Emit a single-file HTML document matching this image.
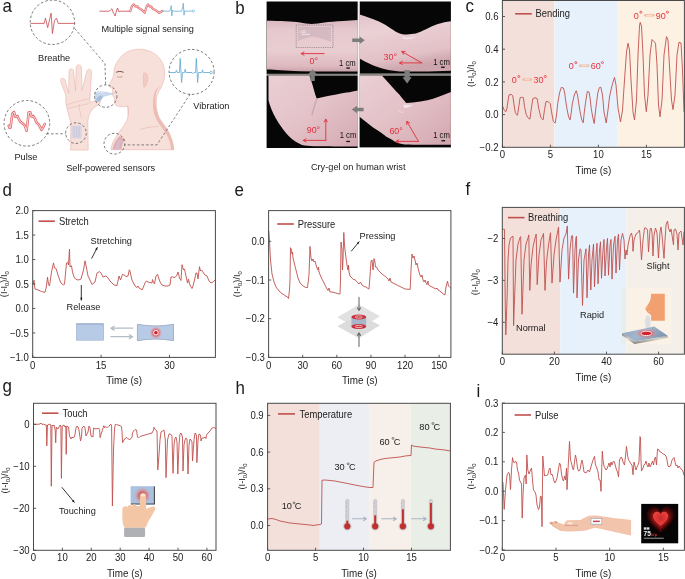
<!DOCTYPE html>
<html><head><meta charset="utf-8"><style>
html,body{margin:0;padding:0;background:#fff;width:685px;height:579px;overflow:hidden}
svg{display:block;font-family:"Liberation Sans",sans-serif;will-change:transform}
</style></head><body>
<svg width="685" height="579" viewBox="0 0 685 579">
<path d="M110.9,149.7 C112,143 114,139 119.8,131.3 C123,127 125.8,123.3 127.5,119 C128.5,115 128.3,110 128,105.8 C126,106.5 125,106.8 123.8,106.8 C121,106.8 119.5,106.7 118.1,106.3 C116.5,105.8 115.8,105.2 115.5,104.7 C114.8,103.5 114.5,102.8 114.5,102.2 C114.5,100.5 114.8,99.5 114.5,98.5 C113.8,97.5 113.2,96.8 113,95.9 C112.6,95 112.2,94.2 112.2,93.3 C112.2,92.3 112.4,91.5 112.4,90.8 C112.4,89.8 112.5,88.8 112.4,88.2 C111.5,87.7 110.5,87.5 109.8,87.1 C109.2,86.7 108.9,86.2 109.1,85.6 C109.3,84.8 109.5,84.2 109.8,83.5 C110.6,82.2 111.3,81 111.9,79.9 C112.6,78.5 113.2,77 113.5,75.7 C113.7,74.3 113.8,73 114,71.6 C114.1,70.2 114.2,68.8 114.5,67.4 C115.3,65.3 116.4,63.2 117.6,61.2 C119.2,58.8 121,56.8 122.8,55 C127,51 133,49.2 139.7,49.2 C149,49.6 158,53.5 162.5,63 C165.5,70 164.8,78 163.3,82 C161.8,87 159.8,89.5 158.5,92 C156.3,96 156,101 156.3,106 C156.7,112 158.5,117 160.6,120.1 C162.5,123 164.5,125.5 166.6,128.5 C168.5,131.5 170.2,134.5 171.4,138.2 C172.8,142 173.6,146 173.9,149.7 Z" fill="#f8e0da" stroke="#e8b4ac" stroke-width="0.6"/>
<path d="M160.6,85 C158,88 156,91.5 155.7,94.7 C155.3,99 155.6,104 156.3,109.2 C157.2,114 158.6,117.5 160.6,120.1 C162.6,123 164.6,125.6 166.6,128.5 C168.6,131.6 170.2,134.8 171.4,138.2 C172.7,142 173.5,146 173.9,149.7 L171.2,149.7 C170.8,145.5 169.8,141.5 168.3,138 C166.8,134.5 164.8,131.5 162.8,129 C160.5,126 158.3,123 156.8,120 C155,116.5 153.8,113 153.3,109 C152.8,104 153,99 153.8,95 C154.6,91 156.8,88 160.6,85 Z" fill="#ecbcb4"/>
<path d="M143.5,73 C146.5,72 148.3,75 147.8,79 C147.4,83 146,86.5 144,87.5 C143.2,84 143.1,78 143.5,73 Z" fill="#f1cbc4" stroke="#e8b4ac" stroke-width="0.5"/>
<path d="M116.2,72.3 C118.5,71.2 121,71.2 123.5,72.3" stroke="#6e4d47" stroke-width="1" fill="none"/>
<path d="M117.1,76.6 C119,77.3 120.8,77.3 122.4,76.6" stroke="#9a7872" stroke-width="0.6" fill="none"/>
<path d="M112.3,93.4 L114.6,93.6" stroke="#c89a92" stroke-width="0.5" fill="none"/>
<path d="M127.5,106 C128.2,110 128.4,113 128,115.5" stroke="#e0aaa2" stroke-width="0.5" fill="none"/>
<path d="M140,129.7 C146,127.5 152,126.5 158.1,126.7" stroke="#e0aaa2" stroke-width="0.5" fill="none"/>
<path d="M112.5,149.6 C113.5,144 116,139.5 119.5,136 L124.8,139 C123,142 121.8,146 121.5,149.6 Z" fill="#e2aeb3"/>
<path d="M114.5,149.4 C115.5,145 117.2,141.5 119.8,139 L122,140.5 C120.5,143 119.5,146 119.2,149.4 Z" fill="#d7bccb"/>
<path d="M70.7,150 L70.7,121 C69.5,118.5 68.8,116.5 68.5,114 C67.5,111 66.6,108 66.2,105 C65.8,101.5 65.7,98 65.7,94.8 L60.6,81.5 C60.2,79.5 61,78.3 62.3,78.3 C63.8,78.3 64.8,79.2 65.2,80.2 L68.7,93.5 L69,71.5 C69.2,69.5 70.2,68.8 71.3,68.8 C72.6,68.8 73.4,69.6 73.5,70.9 L75.5,91 L76.2,67.5 C76.4,65.6 77.4,64.9 78.6,64.9 C79.8,64.9 81.2,65.6 81.3,67 L82,90.3 L86.8,71 C87.2,69.8 88.3,69.3 89.3,69.4 C90.6,69.6 91.6,70.4 91.5,71.6 L89.8,102.2 C91.5,102 93,101.6 94.3,101.2 C95.5,99.5 96.5,98 97.7,96.8 C99.2,96 100.6,97 100.8,98.5 C100.8,100.5 100.2,102.5 99.6,103.8 C97.5,105.5 95,107 93.2,108.3 C91.3,110.5 89.8,113.3 88.7,116.2 L87.8,121 L88.2,150 Z" fill="#f8e0da" stroke="#e8b4ac" stroke-width="0.6"/>
<path d="M66.3,105 C72,103 80,100.5 89.8,98.8 M67.4,108.6 C74,107 82,104.8 89.3,103.5 M79,104 C79.5,109 80.3,114 81.5,118.2" stroke="#e3aca3" stroke-width="0.45" fill="none"/>
<rect x="71.6" y="125.6" width="10" height="12.8" fill="#d6d3e2" opacity="0.95"/>
<path d="M74,126.5 L74,137.5 M76.6,126.5 L76.6,137.5 M79.2,126.5 L79.2,137.5" stroke="#c3c5da" stroke-width="0.7"/>
<path d="M113.2,93.4 C109,92.6 105,91.6 100.9,91.3 C98,91.2 96,91.9 94.8,93.1 C94.4,95.5 95,98.5 96,100.4 C98.5,99.2 101,97.8 103.9,96.8 C107,95.7 110,94.9 113.2,94.4 Z" fill="#c3d4ea" opacity="0.9"/>
<path d="M96,100.8 C96.4,98.2 98,96.3 100.6,95.4 L103.4,96.9 C102,98.6 100.6,100.4 99.3,101.8 C98.2,102.2 96.8,101.8 96,100.8 Z" fill="#a9bedc"/>
<path d="M97,92.6 C99.5,92 102,92.2 104,92.7" stroke="#eef3fa" stroke-width="0.6" fill="none"/>
<circle cx="52.4" cy="22.3" r="22.2" fill="none" stroke="#4d4d4d" stroke-width="0.75" stroke-dasharray="2.6,2"/>
<circle cx="191.6" cy="71.9" r="22.5" fill="none" stroke="#4d4d4d" stroke-width="0.75" stroke-dasharray="2.6,2"/>
<circle cx="26.9" cy="123.3" r="22.8" fill="none" stroke="#4d4d4d" stroke-width="0.75" stroke-dasharray="2.6,2"/>
<circle cx="105.7" cy="96.1" r="11.2" fill="none" stroke="#4d4d4d" stroke-width="0.75" stroke-dasharray="2.6,2"/>
<circle cx="76" cy="133.1" r="10.3" fill="none" stroke="#4d4d4d" stroke-width="0.75" stroke-dasharray="2.6,2"/>
<circle cx="114.4" cy="143.7" r="10.4" fill="none" stroke="#4d4d4d" stroke-width="0.75" stroke-dasharray="2.6,2"/>
<path d="M74.7,28.5 L104.9,63.5 L105.7,84.9" fill="none" stroke="#4d4d4d" stroke-width="0.7" stroke-dasharray="2.6,2"/>
<path d="M46.4,133.8 L65.7,133.8" fill="none" stroke="#4d4d4d" stroke-width="0.7" stroke-dasharray="2.6,2"/>
<path d="M190.2,94.1 L156.9,144.9 L124.6,144.9" fill="none" stroke="#4d4d4d" stroke-width="0.7" stroke-dasharray="2.6,2"/>
<polyline points="30.9,23.4 44.1,23.4 45.5,18.2 47.7,27.7 51.1,13.1 52.4,33.6 54.5,20.5 56.5,18.2 58.2,23.4 74.7,23.4" fill="none" stroke="#c8474c" stroke-width="0.8" stroke-linejoin="round" stroke-linecap="round" />
<polyline points="169.4,72.5 175.6,72.5 176.4,70.2 177.3,72.5 179.4,72.5 180.2,58.3 181.6,82.5 182.6,72.5 184.5,72.5 185.2,69.2 186,72.5 192,72.5 193,73.6 194,72.5 195.6,72.5 196.3,58.3 197.6,82.5 198.5,72.5 201.8,72.5 202.5,69.9 203.2,72.5 209.9,72.5" fill="none" stroke="#5ca6cf" stroke-width="0.8" stroke-linejoin="round" stroke-linecap="round" />
<circle cx="211.1" cy="72.5" r="1.2" fill="#fff" stroke="#5ca6cf" stroke-width="0.7"/>
<polyline points="8.7,125.7 9.5,127.8 10.5,127.5 11.5,120 12.4,113.5 14.1,112 15.3,116.6 16.4,116.8 17.4,115.9 18.2,117.8 20.3,121.6 23.2,124 24.9,125.7 26.5,130.7 27.3,125 27.8,120.7 28.6,112.6 30.3,112.4 31.5,116.6 32.4,116.8 33.2,116 34.8,118.2 36.5,122.4 39,124.9 41.5,129.9 43.1,127.4 44.8,124" fill="none" stroke="#e26f74" stroke-width="2.6" stroke-linejoin="round" stroke-linecap="round" />
<polyline points="8.7,125.7 9.5,127.8 10.5,127.5 11.5,120 12.4,113.5 14.1,112 15.3,116.6 16.4,116.8 17.4,115.9 18.2,117.8 20.3,121.6 23.2,124 24.9,125.7 26.5,130.7 27.3,125 27.8,120.7 28.6,112.6 30.3,112.4 31.5,116.6 32.4,116.8 33.2,116 34.8,118.2 36.5,122.4 39,124.9 41.5,129.9 43.1,127.4 44.8,124" fill="none" stroke="#fde6e6" stroke-width="0.9" stroke-linejoin="round" stroke-linecap="round" />
<polyline points="99.8,11.2 109.4,11.2 110.5,10 111.9,8.8 113,12 115.1,16 116.5,11 117.5,8 118.3,10 119.1,12 120,11.2 130.3,11.2" fill="none" stroke="#c8474c" stroke-width="0.8" stroke-linejoin="round" stroke-linecap="round" />
<polyline points="130.3,11.2 131.3,8 132.2,5.6 133.8,4.5 135.4,6.4 136.3,6.6 137.1,6.1 138.3,7.7 141.5,9.6 144.8,12.8 145.8,9 146.7,6.4 148,4.5 149.6,6.4 150.4,6.6 151.2,6.4 152.8,8.8 156,10.4 159.2,12.8 160.8,12 162.4,10.9" fill="none" stroke="#e26f74" stroke-width="2.2" stroke-linejoin="round" stroke-linecap="round" />
<polyline points="130.3,11.2 131.3,8 132.2,5.6 133.8,4.5 135.4,6.4 136.3,6.6 137.1,6.1 138.3,7.7 141.5,9.6 144.8,12.8 145.8,9 146.7,6.4 148,4.5 149.6,6.4 150.4,6.6 151.2,6.4 152.8,8.8 156,10.4 159.2,12.8 160.8,12 162.4,10.9" fill="none" stroke="#fde6e6" stroke-width="0.7" stroke-linejoin="round" stroke-linecap="round" />
<polyline points="162.4,11.2 169.5,11.2 170.5,9 171.2,5.6 171.8,16 172.5,10 173.3,11.2 181.5,11.2 182.5,8 183.3,3.2 184,15.2 184.8,10.5 185.5,11.2 192.5,11" fill="none" stroke="#6aaed3" stroke-width="0.8" stroke-linejoin="round" stroke-linecap="round" />
<circle cx="193.5" cy="11" r="1.1" fill="#fff" stroke="#6aaed3" stroke-width="0.6"/>
<text transform="translate(38,60.6) scale(0.94,1)" font-size="9.8" text-anchor="start" fill="#222" >Breathe</text>
<text transform="translate(101.4,32.2) scale(0.94,1)" font-size="9.8" text-anchor="start" fill="#222" >Multiple signal sensing</text>
<text transform="translate(193.3,108.6) scale(0.94,1)" font-size="9.8" text-anchor="start" fill="#222" >Vibration</text>
<text transform="translate(14.4,160) scale(0.94,1)" font-size="9.8" text-anchor="start" fill="#222" >Pulse</text>
<text transform="translate(66.2,170.5) scale(0.94,1)" font-size="9.8" text-anchor="start" fill="#222" >Self-powered sensors</text>
<rect x="266.6" y="1.5" width="91.2" height="72.4" fill="#060606"/>
<path d="M266.9,20.7 C280,21 292,21 300,22.5 C306,23.8 311,24.5 318,23.5 C326,22 336,21.3 357.8,20 L357.8,71.4 C340,71.4 320,71.6 300,71.2 C285,70.8 275,70 266.9,69.6 Z" fill="url(#gskin1)"/>
<rect x="296.2" y="25" width="36.8" height="22.5" fill="none" stroke="#6a6a6a" stroke-width="0.7" stroke-dasharray="0.8,1"/>
<path d="M298,27 L331,27 L331,42 C325,40 318,36 310,37 C305,38 300,40 298,41 Z" fill="#c9adb6" opacity="0.55"/>
<path d="M300,32 C302,31.5 304,33 306,32 M301.5,34.5 C304,34 307,35 310,34 M303,30.5 L305,30.8" stroke="#f6f0f6" stroke-width="0.9" fill="none" opacity="0.85"/>
<rect x="359.6" y="1.5" width="91.3" height="72.2" fill="#060606"/>
<path d="M359.6,14.6 C363,15.8 367,17 370.6,18.2 C376,20 381,22.5 385.2,24.8 C389,27 392,29.5 395.4,31.4 C397.5,32.5 399.5,33.4 401.3,33.9 C403.5,34.5 405.5,34.7 407.1,34.6 C410,34.4 413,34.1 415.9,33.6 C419.5,32.3 423,30.6 426,29.2 C430,27.3 434,25.5 437.8,24.1 C442,22.6 446.5,21.7 450.9,21.2 L450.9,70.8 C440,71.3 430,71.5 421.7,71.5 C413,71.5 405,71.5 399.8,71.5 C394,71 389,70.2 385.2,69.3 C380,68 375,66.3 370.6,64.2 C366.5,62.3 363,60.4 359.6,58.4 Z" fill="url(#gskin2)"/>
<path d="M401,36 C404,38 410,38.5 416,36 C414,38.5 409,40 404,39 Z" fill="#f3eaf0" opacity="0.8"/>
<rect x="266.6" y="75.4" width="91.2" height="72.6" fill="#060606"/>
<path d="M268.5,75.4 L309.4,75.4 C310.5,78.5 311.5,81.5 312.4,84.6 C313.4,88 314.4,91.5 315.3,94.8 C315.8,96 316.2,97.3 316.7,98.5 C318.9,98 321.1,97.5 323.3,97 C327.2,96.2 331.1,95.5 335,94.8 C339,94 342.8,93.3 346.7,92.6 C350.6,91.9 354.5,91.1 357.8,90.4 L357.8,146.6 C343,146.5 325,146.4 314,146.3 C309,145.9 305.5,145.5 302,144.9 C299.5,143.8 297.5,142.8 295.4,141.6 C293,139.8 290.8,138 288.7,135.9 C286.7,133.8 284.8,131.5 283,129.2 C281.3,127 279.7,124.8 278.3,122.6 C276.6,119.8 275,117 273.5,114 C272,110.9 270.8,107.6 269.7,104.5 C269.2,103 268.8,101.5 268.5,100 Z" fill="url(#gskin3)"/>
<path d="M316.7,99 C315,104 313.2,110 311.8,115.5" stroke="#c8a0a8" stroke-width="1.4" fill="none" opacity="0.8"/>
<rect x="359.3" y="75.4" width="91.6" height="72" fill="#060606"/>
<path d="M359.3,75.4 L381.8,75.4 C388,82 394,89 399.7,95 C401.2,97 402.8,99 404.4,100.7 C405,101.5 405.6,102.3 406.3,103.1 C408.5,102.9 410.8,102.8 413,102.6 C418,102 423,101.2 427.5,100.2 C435,98.5 442,95.5 450.9,92 L450.9,144.8 C430,144.8 415,144.7 405,144.5 C400,143.8 397.5,143 395.5,142 C394.3,141.3 393.2,140.6 392.1,139.8 C390.2,138.8 388.3,137.8 386.3,136.7 C383.5,134.5 381,132.5 379.7,131.8 C377.2,130.2 375.2,128.8 373.1,127.5 C370.5,125.5 368,123.5 365.5,121.5 C363.6,120 361.7,118.5 359.8,117 L359.3,116.6 Z" fill="url(#gskin4)"/>
<path d="M403,105 C406,104.5 410,105.5 413,104.5 C411,107 407,108.5 404,108 Z" fill="#f3eaf0" opacity="0.8"/>
<path d="M398,110 C400,112 402,113 404,112" stroke="#f3eaf0" stroke-width="0.8" fill="none" opacity="0.7"/>
<defs>
<linearGradient id="gskin1" x1="0" y1="0" x2="0" y2="1"><stop offset="0" stop-color="#d9b7bf"/><stop offset="0.2" stop-color="#e6c9ce"/><stop offset="0.6" stop-color="#e8cdd1"/><stop offset="0.9" stop-color="#ddb9bf"/><stop offset="1" stop-color="#c9a2aa"/></linearGradient>
<linearGradient id="gskin2" x1="0" y1="0" x2="0.3" y2="1"><stop offset="0" stop-color="#e2c4ca"/><stop offset="0.3" stop-color="#ebd1d5"/><stop offset="0.8" stop-color="#e2c1c7"/><stop offset="1" stop-color="#cda6ad"/></linearGradient>
<linearGradient id="gskin3" x1="0" y1="0" x2="1" y2="1"><stop offset="0" stop-color="#eacfd4"/><stop offset="0.45" stop-color="#e4c4ca"/><stop offset="0.8" stop-color="#dbb4bb"/><stop offset="1" stop-color="#d0a6ae"/></linearGradient>
<linearGradient id="gskin4" x1="0" y1="0" x2="1" y2="1"><stop offset="0" stop-color="#eacfd4"/><stop offset="0.45" stop-color="#e3c2c8"/><stop offset="0.8" stop-color="#dab2b9"/><stop offset="1" stop-color="#cfa4ac"/></linearGradient>
<radialGradient id="rglow"><stop offset="0" stop-color="#d21f2a"/><stop offset="0.5" stop-color="#dd5a60" stop-opacity="0.8"/><stop offset="1" stop-color="#f0a0a0" stop-opacity="0"/></radialGradient>
<radialGradient id="rglow2"><stop offset="0" stop-color="#c62828"/><stop offset="0.55" stop-color="#d9706e" stop-opacity="0.75"/><stop offset="1" stop-color="#e8a4a8" stop-opacity="0"/></radialGradient>
<radialGradient id="heartglow"><stop offset="0" stop-color="#8a0f12"/><stop offset="0.4" stop-color="#6a0a0c"/><stop offset="0.7" stop-color="#3a0405"/><stop offset="1" stop-color="#000" stop-opacity="0"/></radialGradient>
</defs>
<rect x="266.6" y="73.9" width="184.3" height="1.4" fill="#8a8682"/>
<rect x="357.8" y="1.5" width="1.6" height="146.5" fill="#f4f0f0"/>
<path d="M352.2,38.5 L359.6,38.5 L359.6,36.5 L364.8,40.2 L359.6,43.9 L359.6,41.9 L352.2,41.9 Z" fill="#7d7d7d"/>
<path d="M404.5,70 L404.5,77.2 L402.5,77.2 L407.1,83.4 L411.7,77.2 L409.7,77.2 L409.7,70 Z" fill="#7d7d7d"/>
<path d="M363.6,107.8 L357,107.8 L357,105.8 L351.8,109.5 L357,113.2 L357,111.2 L363.6,111.2 Z" fill="#7d7d7d"/>
<path d="M310.3,81 L310.3,74.2 L308.1,74.2 L312.5,69.3 L316.9,74.2 L314.8,74.2 L314.8,81 Z" fill="#7d7d7d"/>
<path d="M324.1,53.6 L301.2,53.6 M303.95,51.97 L301.2,53.6 L303.95,55.23" stroke="#e0303a" stroke-width="0.9" fill="none" stroke-linecap="round" stroke-linejoin="round"/>
<text transform="translate(309.6,63.7) scale(0.94,1)" font-size="9.5" text-anchor="start" fill="#e0303a" >0°</text>
<path d="M421.8,62.9 L399.6,62.9 M402.35,61.27 L399.6,62.9 L402.35,64.53" stroke="#e0303a" stroke-width="0.9" fill="none" stroke-linecap="round" stroke-linejoin="round"/>
<path d="M421.8,62.9 L401.8,51.5 M405,51.45 L401.8,51.5 L403.39,54.28" stroke="#e0303a" stroke-width="0.9" fill="none" stroke-linecap="round" stroke-linejoin="round"/>
<text transform="translate(383.6,60.2) scale(0.94,1)" font-size="9.5" text-anchor="start" fill="#e0303a" >30°</text>
<path d="M325.8,140.4 L303.3,140.4 M306.05,138.77 L303.3,140.4 L306.05,142.03" stroke="#e0303a" stroke-width="0.9" fill="none" stroke-linecap="round" stroke-linejoin="round"/>
<path d="M325.8,140.4 L325.8,119.2 M327.43,121.95 L325.8,119.2 L324.17,121.95" stroke="#e0303a" stroke-width="0.9" fill="none" stroke-linecap="round" stroke-linejoin="round"/>
<text transform="translate(306.7,132.8) scale(0.94,1)" font-size="9.5" text-anchor="start" fill="#e0303a" >90°</text>
<path d="M418.5,141.4 L396,141.4 M398.75,139.77 L396,141.4 L398.75,143.03" stroke="#e0303a" stroke-width="0.9" fill="none" stroke-linecap="round" stroke-linejoin="round"/>
<path d="M418.5,141.4 L406.8,121.4 M409.6,122.95 L406.8,121.4 L406.78,124.6" stroke="#e0303a" stroke-width="0.9" fill="none" stroke-linecap="round" stroke-linejoin="round"/>
<text transform="translate(389.4,133.6) scale(0.94,1)" font-size="9.5" text-anchor="start" fill="#e0303a" >60°</text>
<text transform="translate(339,65.8) scale(0.94,1)" font-size="8.2" text-anchor="start" fill="#111" >1 cm</text>
<rect x="346.3" y="67.4" width="3.6" height="1.3" fill="#111"/>
<text transform="translate(433.2,65) scale(0.94,1)" font-size="8.2" text-anchor="start" fill="#111" >1 cm</text>
<rect x="441.1" y="66.60000000000001" width="3.6" height="1.3" fill="#111"/>
<text transform="translate(339.7,137.8) scale(0.94,1)" font-size="8.2" text-anchor="start" fill="#111" >1 cm</text>
<rect x="346.3" y="140.8" width="3.6" height="1.3" fill="#111"/>
<text transform="translate(433.2,137.8) scale(0.94,1)" font-size="8.2" text-anchor="start" fill="#111" >1 cm</text>
<rect x="441.5" y="140.1" width="3.6" height="1.3" fill="#111"/>
<text transform="translate(358.2,170.1) scale(0.94,1)" font-size="9.8" text-anchor="middle" fill="#222" >Cry-gel on human wrist</text>
<text transform="translate(2.5,12.2) scale(0.94,1)" font-size="18" text-anchor="start" fill="#1a1a1a" >a</text>
<text transform="translate(235.2,13.9) scale(0.94,1)" font-size="18" text-anchor="start" fill="#1a1a1a" >b</text>
<text transform="translate(465.5,12.2) scale(0.94,1)" font-size="18" text-anchor="start" fill="#1a1a1a" >c</text>
<text transform="translate(2.5,195.8) scale(0.94,1)" font-size="18" text-anchor="start" fill="#1a1a1a" >d</text>
<text transform="translate(234.5,195.8) scale(0.94,1)" font-size="18" text-anchor="start" fill="#1a1a1a" >e</text>
<text transform="translate(465.5,195.2) scale(0.94,1)" font-size="18" text-anchor="start" fill="#1a1a1a" >f</text>
<text transform="translate(2.5,391.5) scale(0.94,1)" font-size="18" text-anchor="start" fill="#1a1a1a" >g</text>
<text transform="translate(235.5,393.7) scale(0.94,1)" font-size="18" text-anchor="start" fill="#1a1a1a" >h</text>
<text transform="translate(476.6,396.6) scale(0.94,1)" font-size="18" text-anchor="start" fill="#1a1a1a" >i</text>
<rect x="502.4" y="0.5" width="51.9" height="146.8" fill="#f3e0da"/>
<rect x="554.3" y="0.5" width="0.5" height="146.8" fill="#f8f0ee"/>
<rect x="554.8" y="0.5" width="62.2" height="146.8" fill="#e7f1fb"/>
<rect x="617" y="0.5" width="67.4" height="146.8" fill="#fdf1e4"/>
<polyline points="502.9,106.7 504.3,110.5 505.8,111.8 507,108 508,100.9 509,95 511,94.3 512.8,95.8 513.9,103.8 515.3,112.6 516.5,114.6 517.5,115.2 519,105.3 520.1,97.7 521.9,97.2 523.4,97.7 524.5,106.7 526.3,114.7 528,117.8 529.9,119.1 531.4,108.2 532.8,98.7 535,97.7 537.2,98.7 538.7,108.2 540.9,117.7 543.1,119.9 544.5,109.6 546,101.6 548.2,101.6 550.4,103.8 551.4,111.1 553.3,121.3 555.2,123.1 556.5,115 557.7,103.8 559.5,93 561.3,87.4 563.5,88 564.7,93 565.7,100.9 567.2,110 568.6,116.9 570.1,119.9 571.3,112 572.3,103.8 574.3,95 576.2,90.7 577.5,95 578.8,103.8 580.3,113 581.8,119.9 583.2,122.8 584.3,112 585.4,103.8 587.3,91.4 589.1,92.1 590.2,99 591.2,108.2 592.7,117 594.2,123.5 595.3,113 596.4,103.8 597.8,93 599.3,87.7 600.8,87.2 602.5,95 604,112 606.2,123 608,110 609.5,97 611,89.9 613,82 614.5,77.4 616,85 618,108 620.5,122 622.5,110 624.5,80 626.5,52 628,43.2 629.5,50 631,80 633,112 634.5,120 636.5,100 638,55 639.5,26 640.2,22.4 641.5,26 643,55 644.5,95 646.3,111.7 648,95 650,55 652,39.5 655.5,43.2 657,65 658.5,105 660,116.8 662,100 664,55 666.5,36.6 668,40 670,75 671.5,100 673,109.6 675,95 677,55 679,42.2 681,43 682.5,70 684,111.7" fill="none" stroke="#c0504d" stroke-width="0.9" stroke-linejoin="round" stroke-linecap="round" />
<rect x="502.4" y="0.5" width="182" height="146.8" fill="none" stroke="#4a4a4a" stroke-width="1"/>
<line x1="502.4" y1="147.3" x2="502.4" y2="144.7" stroke="#4a4a4a" stroke-width="0.9"/>
<text transform="translate(502.4,158.4) scale(0.94,1)" font-size="10.2" text-anchor="middle" fill="#222" >0</text>
<line x1="550.4" y1="147.3" x2="550.4" y2="144.7" stroke="#4a4a4a" stroke-width="0.9"/>
<text transform="translate(550.4,158.4) scale(0.94,1)" font-size="10.2" text-anchor="middle" fill="#222" >5</text>
<line x1="598.4" y1="147.3" x2="598.4" y2="144.7" stroke="#4a4a4a" stroke-width="0.9"/>
<text transform="translate(598.4,158.4) scale(0.94,1)" font-size="10.2" text-anchor="middle" fill="#222" >10</text>
<line x1="646.4" y1="147.3" x2="646.4" y2="144.7" stroke="#4a4a4a" stroke-width="0.9"/>
<text transform="translate(646.4,158.4) scale(0.94,1)" font-size="10.2" text-anchor="middle" fill="#222" >15</text>
<line x1="502.4" y1="147.3" x2="505" y2="147.3" stroke="#4a4a4a" stroke-width="0.9"/>
<text transform="translate(498.5,150.95) scale(0.94,1)" font-size="10.2" text-anchor="end" fill="#222" >−0.2</text>
<line x1="502.4" y1="114.6" x2="505" y2="114.6" stroke="#4a4a4a" stroke-width="0.9"/>
<text transform="translate(498.5,118.25) scale(0.94,1)" font-size="10.2" text-anchor="end" fill="#222" >0.0</text>
<line x1="502.4" y1="81.9" x2="505" y2="81.9" stroke="#4a4a4a" stroke-width="0.9"/>
<text transform="translate(498.5,85.55) scale(0.94,1)" font-size="10.2" text-anchor="end" fill="#222" >0.2</text>
<line x1="502.4" y1="49.2" x2="505" y2="49.2" stroke="#4a4a4a" stroke-width="0.9"/>
<text transform="translate(498.5,52.85) scale(0.94,1)" font-size="10.2" text-anchor="end" fill="#222" >0.4</text>
<line x1="502.4" y1="16.5" x2="505" y2="16.5" stroke="#4a4a4a" stroke-width="0.9"/>
<text transform="translate(498.5,20.15) scale(0.94,1)" font-size="10.2" text-anchor="end" fill="#222" >0.6</text>
<text transform="translate(593.4,173.7) scale(0.94,1)" font-size="10.5" text-anchor="middle" fill="#222" >Time (s)</text>
<text transform="translate(474,74.1) rotate(-90) scale(0.94,1)" font-size="9.8" text-anchor="middle" fill="#222">(I-I<tspan font-size="6.2" dy="2.2">0</tspan><tspan dy="-2.2">)/I</tspan><tspan font-size="6.2" dy="2.2">0</tspan></text>
<line x1="515.1" y1="13.8" x2="531.8" y2="13.8" stroke="#c0504d" stroke-width="1.6"/>
<text transform="translate(535.5,17.4) scale(0.94,1)" font-size="10" text-anchor="start" fill="#222" >Bending</text>
<text transform="translate(511.7,82.8) scale(0.94,1)" font-size="9.6" text-anchor="start" fill="#e6323c" >0</text>
<circle cx="518.8" cy="76.5" r="1.05" fill="none" stroke="#e6323c" stroke-width="0.75"/>
<text transform="translate(533.6,82.8) scale(0.94,1)" font-size="9.6" text-anchor="start" fill="#e6323c" >30</text>
<circle cx="545.3" cy="76.5" r="1.05" fill="none" stroke="#e6323c" stroke-width="0.75"/>
<path d="M523.3,78.8 L531.1,78.8 M523.3,80.4 L531.1,80.4" stroke="#f6b79e" stroke-width="0.75" fill="none"/>
<path d="M521.8,79.6 L524.2,77.8 L524.2,81.4 Z M532.6,79.6 L530.2,77.8 L530.2,81.4 Z" fill="#f6b79e"/>
<text transform="translate(568.7,68.9) scale(0.94,1)" font-size="9.6" text-anchor="start" fill="#e6323c" >0</text>
<circle cx="575.8" cy="62.6" r="1.05" fill="none" stroke="#e6323c" stroke-width="0.75"/>
<text transform="translate(590.7,68.9) scale(0.94,1)" font-size="9.6" text-anchor="start" fill="#e6323c" >60</text>
<circle cx="602.4" cy="62.6" r="1.05" fill="none" stroke="#e6323c" stroke-width="0.75"/>
<path d="M580,64.9 L588.5,64.9 M580,66.5 L588.5,66.5" stroke="#f6b79e" stroke-width="0.75" fill="none"/>
<path d="M578.5,65.7 L580.9,63.9 L580.9,67.5 Z M590,65.7 L587.6,63.9 L587.6,67.5 Z" fill="#f6b79e"/>
<text transform="translate(633.7,18.5) scale(0.94,1)" font-size="9.6" text-anchor="start" fill="#e6323c" >0</text>
<circle cx="640.8" cy="12.2" r="1.05" fill="none" stroke="#e6323c" stroke-width="0.75"/>
<text transform="translate(655.7,18.5) scale(0.94,1)" font-size="9.6" text-anchor="start" fill="#e6323c" >90</text>
<circle cx="667.4" cy="12.2" r="1.05" fill="none" stroke="#e6323c" stroke-width="0.75"/>
<path d="M645,14.5 L653.5,14.5 M645,16.1 L653.5,16.1" stroke="#f6b79e" stroke-width="0.75" fill="none"/>
<path d="M643.5,15.3 L645.9,13.5 L645.9,17.1 Z M655,15.3 L652.6,13.5 L652.6,17.1 Z" fill="#f6b79e"/>
<polyline points="33,284.4 34,280.2 35,289 38,290 41.5,291.5 45,292.4 46.3,287 47.5,277.2 48.5,284.5 49.5,286 51.5,272 53.5,262.9 54.5,268 56,268.4 58,275 60.5,282 62,284 63.5,285 64.5,284 66.5,263 67.5,262.2 68.5,265 69.5,249 70,267 71.5,265.7 72.5,272 74,277 75.5,279 78,280 80,279.5 81,279 83.5,270 85,260.8 86.5,268 88,276 90,280 92,284.5 95,282 97,273 99.5,271.6 101,273 103,277 106,276 108,278 110,281 112,283 114,285 117,285.5 119,276 120.5,280 122.5,274.3 124,275 126,276.5 128,276 129.3,269.8 130,271 131,276 132,280 134,284 135,286 137,287.5 138,286 139,288 141,289 142,290 143,288 145,283 146.5,281 148,282 150,282.5 152,283 152.5,279.5 153.5,282.5 154.5,284 155,281 156,276 157.5,274.3 159,279 160.5,283 162,285 165,286 168,286 170,285 171,277 172.5,277 175,277.5 177,275 178,272 179.5,278 181,280.5 182,264.7 183.5,270 184.5,269 186,276 187.5,283 188.5,279 189.5,284 191,287 192,288.5 193,286 194.5,280 196,273 197,273 198,279 199.5,266.7 200.5,271 201.5,270 203,272 205,275 207,276 209,281 211,283 213,282 215,280" fill="none" stroke="#c0504d" stroke-width="0.9" stroke-linejoin="round" stroke-linecap="round" />
<rect x="32.7" y="210.6" width="182.7" height="146.8" fill="none" stroke="#4a4a4a" stroke-width="1"/>
<line x1="32.7" y1="357.4" x2="32.7" y2="354.8" stroke="#4a4a4a" stroke-width="0.9"/>
<text transform="translate(32.7,368.5) scale(0.94,1)" font-size="10.2" text-anchor="middle" fill="#222" >0</text>
<line x1="101.1" y1="357.4" x2="101.1" y2="354.8" stroke="#4a4a4a" stroke-width="0.9"/>
<text transform="translate(101.1,368.5) scale(0.94,1)" font-size="10.2" text-anchor="middle" fill="#222" >15</text>
<line x1="169.5" y1="357.4" x2="169.5" y2="354.8" stroke="#4a4a4a" stroke-width="0.9"/>
<text transform="translate(169.5,368.5) scale(0.94,1)" font-size="10.2" text-anchor="middle" fill="#222" >30</text>
<line x1="32.7" y1="357.4" x2="35.3" y2="357.4" stroke="#4a4a4a" stroke-width="0.9"/>
<text transform="translate(28.8,361.05) scale(0.94,1)" font-size="10.2" text-anchor="end" fill="#222" >−1.0</text>
<line x1="32.7" y1="332.94" x2="35.3" y2="332.94" stroke="#4a4a4a" stroke-width="0.9"/>
<text transform="translate(28.8,336.58) scale(0.94,1)" font-size="10.2" text-anchor="end" fill="#222" >−0.5</text>
<line x1="32.7" y1="308.47" x2="35.3" y2="308.47" stroke="#4a4a4a" stroke-width="0.9"/>
<text transform="translate(28.8,312.12) scale(0.94,1)" font-size="10.2" text-anchor="end" fill="#222" >0.0</text>
<line x1="32.7" y1="284" x2="35.3" y2="284" stroke="#4a4a4a" stroke-width="0.9"/>
<text transform="translate(28.8,287.65) scale(0.94,1)" font-size="10.2" text-anchor="end" fill="#222" >0.5</text>
<line x1="32.7" y1="259.54" x2="35.3" y2="259.54" stroke="#4a4a4a" stroke-width="0.9"/>
<text transform="translate(28.8,263.19) scale(0.94,1)" font-size="10.2" text-anchor="end" fill="#222" >1.0</text>
<line x1="32.7" y1="235.07" x2="35.3" y2="235.07" stroke="#4a4a4a" stroke-width="0.9"/>
<text transform="translate(28.8,238.72) scale(0.94,1)" font-size="10.2" text-anchor="end" fill="#222" >1.5</text>
<line x1="32.7" y1="210.61" x2="35.3" y2="210.61" stroke="#4a4a4a" stroke-width="0.9"/>
<text transform="translate(28.8,214.26) scale(0.94,1)" font-size="10.2" text-anchor="end" fill="#222" >2.0</text>
<text transform="translate(124.05,383.8) scale(0.94,1)" font-size="10.5" text-anchor="middle" fill="#222" >Time (s)</text>
<text transform="translate(7,284.2) rotate(-90) scale(0.94,1)" font-size="9.8" text-anchor="middle" fill="#222">(I-I<tspan font-size="6.2" dy="2.2">0</tspan><tspan dy="-2.2">)/I</tspan><tspan font-size="6.2" dy="2.2">0</tspan></text>
<line x1="38.5" y1="221.2" x2="54.9" y2="221.2" stroke="#c0504d" stroke-width="1.6"/>
<text transform="translate(59,224.8) scale(0.94,1)" font-size="10" text-anchor="start" fill="#222" >Stretch</text>
<text transform="translate(90.5,244) scale(0.94,1)" font-size="9.8" text-anchor="start" fill="#222" >Stretching</text>
<text transform="translate(66.6,310) scale(0.94,1)" font-size="9.8" text-anchor="start" fill="#222" >Release</text>
<polyline points="268.8,231.1 269.5,241 270.5,260 272,274 274,282 276,287 279,291 282,293.5 285,295.5 288,297.5 288.5,298.5 289.5,290 290,280 290.5,247.7 291.5,250 292,254 292.5,252 293,258 294,262 296,270 298,278 300,283 302,285 304,286.5 306,287.5 307.5,287.5 309,275 310,246.4 311,258 312,261 313,259 314,262 315,261 316,265 317,268 318,270 318.5,267 319,272 321,277 323,281 325,285 327,289 328,290.5 329,288 330,292 332,292 334,292.5 336,293 339,294 340,294 340.5,280 341,242 342,250 342.5,270 343,260 343.8,232.5 344.5,245 345,250 346,258 347,265 348,270 348.5,265 349,272 350,276 352,278 354,280 355,279.5 357,282 359,284 360.5,282 362,285 364,286.5 366,287 368,288.5 369,289 370,276 371,261 372,260 373,270 374,258.5 375,262 375.5,267 376.5,267 378,270 380,272 382,274 384,275.5 386,277 388,279 389,281 390,278 391,282 394,283.5 397,285 400,286.5 403,288 405,289 410.2,289.4 411,270 412,254 413,258 414,256 415,260 416,265 417,263 418,268 419,272 420,275 421,277 422,275 423,280 424,282 425,280 426,283 427,284.5 428,281 428.5,285 430,286 432,287 434,288 436,289 437,288 438,290 440,291 442,293 445,295 446,287 447.5,281 448.5,286 450,287.5 450.8,288" fill="none" stroke="#c0504d" stroke-width="0.9" stroke-linejoin="round" stroke-linecap="round" />
<rect x="268.6" y="210.6" width="182.3" height="146.8" fill="none" stroke="#4a4a4a" stroke-width="1"/>
<line x1="268.6" y1="357.4" x2="268.6" y2="354.8" stroke="#4a4a4a" stroke-width="0.9"/>
<text transform="translate(268.6,368.5) scale(0.94,1)" font-size="10.2" text-anchor="middle" fill="#222" >0</text>
<line x1="302.71" y1="357.4" x2="302.71" y2="354.8" stroke="#4a4a4a" stroke-width="0.9"/>
<text transform="translate(302.71,368.5) scale(0.94,1)" font-size="10.2" text-anchor="middle" fill="#222" >30</text>
<line x1="336.82" y1="357.4" x2="336.82" y2="354.8" stroke="#4a4a4a" stroke-width="0.9"/>
<text transform="translate(336.82,368.5) scale(0.94,1)" font-size="10.2" text-anchor="middle" fill="#222" >60</text>
<line x1="370.93" y1="357.4" x2="370.93" y2="354.8" stroke="#4a4a4a" stroke-width="0.9"/>
<text transform="translate(370.93,368.5) scale(0.94,1)" font-size="10.2" text-anchor="middle" fill="#222" >90</text>
<line x1="405.04" y1="357.4" x2="405.04" y2="354.8" stroke="#4a4a4a" stroke-width="0.9"/>
<text transform="translate(405.04,368.5) scale(0.94,1)" font-size="10.2" text-anchor="middle" fill="#222" >120</text>
<line x1="439.15" y1="357.4" x2="439.15" y2="354.8" stroke="#4a4a4a" stroke-width="0.9"/>
<text transform="translate(439.15,368.5) scale(0.94,1)" font-size="10.2" text-anchor="middle" fill="#222" >150</text>
<line x1="268.6" y1="357.4" x2="271.2" y2="357.4" stroke="#4a4a4a" stroke-width="0.9"/>
<text transform="translate(264.7,361.05) scale(0.94,1)" font-size="10.2" text-anchor="end" fill="#222" >−0.3</text>
<line x1="268.6" y1="318.7" x2="271.2" y2="318.7" stroke="#4a4a4a" stroke-width="0.9"/>
<text transform="translate(264.7,322.35) scale(0.94,1)" font-size="10.2" text-anchor="end" fill="#222" >−0.2</text>
<line x1="268.6" y1="280" x2="271.2" y2="280" stroke="#4a4a4a" stroke-width="0.9"/>
<text transform="translate(264.7,283.65) scale(0.94,1)" font-size="10.2" text-anchor="end" fill="#222" >−0.1</text>
<line x1="268.6" y1="241.3" x2="271.2" y2="241.3" stroke="#4a4a4a" stroke-width="0.9"/>
<text transform="translate(264.7,244.95) scale(0.94,1)" font-size="10.2" text-anchor="end" fill="#222" >0.0</text>
<text transform="translate(359.75,383.8) scale(0.94,1)" font-size="10.5" text-anchor="middle" fill="#222" >Time (s)</text>
<text transform="translate(239.5,284.2) rotate(-90) scale(0.94,1)" font-size="9.8" text-anchor="middle" fill="#222">(I-I<tspan font-size="6.2" dy="2.2">0</tspan><tspan dy="-2.2">)/I</tspan><tspan font-size="6.2" dy="2.2">0</tspan></text>
<line x1="277.2" y1="224" x2="293.9" y2="224" stroke="#c0504d" stroke-width="1.6"/>
<text transform="translate(297.7,227.6) scale(0.94,1)" font-size="10" text-anchor="start" fill="#222" >Pressure</text>
<text transform="translate(359.6,238.8) scale(0.94,1)" font-size="9.8" text-anchor="start" fill="#222" >Pressing</text>
<rect x="502.3" y="207.4" width="58.1" height="146.8" fill="#f3e0da"/>
<rect x="560.4" y="207.4" width="65.9" height="146.8" fill="#e7f1fb"/>
<rect x="626.3" y="207.4" width="58.1" height="146.8" fill="#f5efea"/>
<polyline points="502.5,229.3 504.5,229.3 505.2,300 505.8,334.9 507,300 508,260 509,245 510.5,238 513,236.1 513.6,325.6 514.5,300 516,260 518,244 520,237.5 520.7,236.6 522,314.2 524,260 526,244 528,238 528.8,234.9 529.8,290.4 531,265 533,247 535,238 536.2,234.1 537.2,284.6 539,255 541,240 543.5,233.5 545,290.4 546.5,262 548.5,245 550.5,232.8 552,283.1 554,255 556,240 558.5,227.2 560,282.1 562,250 564,238 566,234 567.3,225.9 568.6,279.1 570,250 571.5,236 572.6,235.6 573.5,293.1 575,250 576,237 576.5,236.3 577,297.8 578.5,260 580,248.8 581,250 582.5,305.5 584,260 586,248.8 587,297.8 588.5,255 589.5,244.9 590.8,290 592,260 593.5,244.1 594.5,286.9 596,255 597,243.3 598,283.8 599.5,250 600.5,241.8 601.5,278.3 603,250 604,239.4 605,276 606.5,248 607.5,238.4 608.5,275.2 610,245 611,239.4 612,279.1 613.5,245 615,236.3 616,273.1 617.5,240 618.5,234.2 619.5,270 621,240 622.5,233.4 624,240 625,259 626,250 627,255 628,245 630,236 631.5,233 632.5,238 633,251.3 634,240 636,234 638,232.7 639.5,230 640,235 641.5,259.9 643,240 644.5,228 646,228 647.5,230 648.5,252 650,230 651,228 652,232 653,256 654,235 655.5,228 657,233 658.5,258 660,232 661,227 662,235 664,258.3 665,240 666,225 667.5,221 668.5,228 670,232 671,229 672,235 673.5,245 674,230 675.5,229 677,234 678,250 679,233 681,231 683,245 684,232" fill="none" stroke="#c0504d" stroke-width="0.9" stroke-linejoin="round" stroke-linecap="round" />
<rect x="502.3" y="207.4" width="182.1" height="146.8" fill="none" stroke="#4a4a4a" stroke-width="1"/>
<line x1="502.3" y1="354.2" x2="502.3" y2="351.6" stroke="#4a4a4a" stroke-width="0.9"/>
<text transform="translate(502.3,365.3) scale(0.94,1)" font-size="10.2" text-anchor="middle" fill="#222" >0</text>
<line x1="554.4" y1="354.2" x2="554.4" y2="351.6" stroke="#4a4a4a" stroke-width="0.9"/>
<text transform="translate(554.4,365.3) scale(0.94,1)" font-size="10.2" text-anchor="middle" fill="#222" >20</text>
<line x1="606.5" y1="354.2" x2="606.5" y2="351.6" stroke="#4a4a4a" stroke-width="0.9"/>
<text transform="translate(606.5,365.3) scale(0.94,1)" font-size="10.2" text-anchor="middle" fill="#222" >40</text>
<line x1="658.6" y1="354.2" x2="658.6" y2="351.6" stroke="#4a4a4a" stroke-width="0.9"/>
<text transform="translate(658.6,365.3) scale(0.94,1)" font-size="10.2" text-anchor="middle" fill="#222" >60</text>
<line x1="502.3" y1="322.3" x2="504.9" y2="322.3" stroke="#4a4a4a" stroke-width="0.9"/>
<text transform="translate(498.4,325.95) scale(0.94,1)" font-size="10.2" text-anchor="end" fill="#222" >−4</text>
<line x1="502.3" y1="280.35" x2="504.9" y2="280.35" stroke="#4a4a4a" stroke-width="0.9"/>
<text transform="translate(498.4,284) scale(0.94,1)" font-size="10.2" text-anchor="end" fill="#222" >−3</text>
<line x1="502.3" y1="238.4" x2="504.9" y2="238.4" stroke="#4a4a4a" stroke-width="0.9"/>
<text transform="translate(498.4,242.05) scale(0.94,1)" font-size="10.2" text-anchor="end" fill="#222" >−2</text>
<text transform="translate(593.35,380.6) scale(0.94,1)" font-size="10.5" text-anchor="middle" fill="#222" >Time (s)</text>
<text transform="translate(477.8,282.3) rotate(-90) scale(0.94,1)" font-size="9.8" text-anchor="middle" fill="#222">(I-I<tspan font-size="6.2" dy="2.2">0</tspan><tspan dy="-2.2">)/I</tspan><tspan font-size="6.2" dy="2.2">0</tspan></text>
<line x1="508" y1="217.6" x2="524.5" y2="217.6" stroke="#c0504d" stroke-width="1.6"/>
<text transform="translate(528,221.2) scale(0.94,1)" font-size="10" text-anchor="start" fill="#222" >Breathing</text>
<text transform="translate(516,330.5) scale(0.94,1)" font-size="9.8" text-anchor="start" fill="#222" >Normal</text>
<text transform="translate(580,317.5) scale(0.94,1)" font-size="9.8" text-anchor="start" fill="#222" >Rapid</text>
<text transform="translate(646.5,268.5) scale(0.94,1)" font-size="9.8" text-anchor="start" fill="#222" >Slight</text>
<polyline points="33.5,424.3 37,424.3 40,424 41,423 42,424.5 44,424 45,425 46.3,425 46.8,445.8 47.5,425 50,424 50.8,426 51.3,486.2 52,425 53,426 54,425 55.2,430 55.7,442.7 56.3,427 58,429 60,425 60.9,426 61.4,478.4 62.2,426 64,425 65,427 65.8,426 66.2,454.3 66.8,426 68.5,427 69.5,436 71,439 72,437 73,438 74.5,437 76,428 77,426 78,427 79,430 80.5,441 81.5,437 82,428 84,426 85,428 86,436 87,434 88,432 89,426 90,428 91,436 93,437 93.5,428 95,428.9 99,428.5 99.6,429.5 100.1,437.6 101.5,433 102.5,430 103.2,427.5 103.8,425.7 104.6,427.8 105.5,426.5 106.5,427.4 107.8,427.5 108.8,426.5 109.8,425 111,424.3 111.6,426 112.4,506 113.5,450 114.6,428 115.4,424.3 116.5,424.5 118,425 120,425.7 121.5,426.5 122,432 122.6,442.7 124,440 125.5,438 127,437.5 128.5,439 129.5,440 130.5,438.5 132,437.5 132.5,433 133.5,431 135,429.5 136.5,430 137.5,437 138.5,438 140,436.5 145,435 150,433.5 152,433 153.5,430 154,427.2 155,429 156,430.5 157,431 157.8,469.9 159,455 160,440 161,432 162.5,431 164,430 165.3,440 166,477.7 167.5,440 169,434 170.5,434 172,436 173,473.3 174,445 175,438 176,437 177,442 177.8,474 179,445 180,434 181,433 182.5,437 183,471 184,445 185,440 186,438 187,439 188,474 189,445 190,439 191,440 192,442 192.5,461 194,440 195,433 196,434 196.5,437 196.9,462.6 198,440 199,434 200.5,435 201,441 202,438 204,438 205,437 206,438.5 206.5,435 208,433 210,431 212,428 213.5,427.5 215,428 215.8,428.5" fill="none" stroke="#c0504d" stroke-width="0.9" stroke-linejoin="round" stroke-linecap="round" />
<rect x="33.5" y="403.3" width="182.5" height="147" fill="none" stroke="#4a4a4a" stroke-width="1"/>
<line x1="33.5" y1="550.3" x2="33.5" y2="547.7" stroke="#4a4a4a" stroke-width="0.9"/>
<text transform="translate(33.5,561.4) scale(0.94,1)" font-size="10.2" text-anchor="middle" fill="#222" >0</text>
<line x1="62.4" y1="550.3" x2="62.4" y2="547.7" stroke="#4a4a4a" stroke-width="0.9"/>
<text transform="translate(62.4,561.4) scale(0.94,1)" font-size="10.2" text-anchor="middle" fill="#222" >10</text>
<line x1="91.3" y1="550.3" x2="91.3" y2="547.7" stroke="#4a4a4a" stroke-width="0.9"/>
<text transform="translate(91.3,561.4) scale(0.94,1)" font-size="10.2" text-anchor="middle" fill="#222" >20</text>
<line x1="120.2" y1="550.3" x2="120.2" y2="547.7" stroke="#4a4a4a" stroke-width="0.9"/>
<text transform="translate(120.2,561.4) scale(0.94,1)" font-size="10.2" text-anchor="middle" fill="#222" >30</text>
<line x1="149.1" y1="550.3" x2="149.1" y2="547.7" stroke="#4a4a4a" stroke-width="0.9"/>
<text transform="translate(149.1,561.4) scale(0.94,1)" font-size="10.2" text-anchor="middle" fill="#222" >40</text>
<line x1="178" y1="550.3" x2="178" y2="547.7" stroke="#4a4a4a" stroke-width="0.9"/>
<text transform="translate(178,561.4) scale(0.94,1)" font-size="10.2" text-anchor="middle" fill="#222" >50</text>
<line x1="206.9" y1="550.3" x2="206.9" y2="547.7" stroke="#4a4a4a" stroke-width="0.9"/>
<text transform="translate(206.9,561.4) scale(0.94,1)" font-size="10.2" text-anchor="middle" fill="#222" >60</text>
<line x1="33.5" y1="550.3" x2="36.1" y2="550.3" stroke="#4a4a4a" stroke-width="0.9"/>
<text transform="translate(29.6,553.95) scale(0.94,1)" font-size="10.2" text-anchor="end" fill="#222" >−30</text>
<line x1="33.5" y1="508.3" x2="36.1" y2="508.3" stroke="#4a4a4a" stroke-width="0.9"/>
<text transform="translate(29.6,511.95) scale(0.94,1)" font-size="10.2" text-anchor="end" fill="#222" >−20</text>
<line x1="33.5" y1="466.3" x2="36.1" y2="466.3" stroke="#4a4a4a" stroke-width="0.9"/>
<text transform="translate(29.6,469.95) scale(0.94,1)" font-size="10.2" text-anchor="end" fill="#222" >−10</text>
<line x1="33.5" y1="424.3" x2="36.1" y2="424.3" stroke="#4a4a4a" stroke-width="0.9"/>
<text transform="translate(29.6,427.95) scale(0.94,1)" font-size="10.2" text-anchor="end" fill="#222" >0</text>
<text transform="translate(124.75,576.7) scale(0.94,1)" font-size="10.5" text-anchor="middle" fill="#222" >Time (s)</text>
<text transform="translate(7.7,480.5) rotate(-90) scale(0.94,1)" font-size="9.8" text-anchor="middle" fill="#222">(I-I<tspan font-size="6.2" dy="2.2">0</tspan><tspan dy="-2.2">)/I</tspan><tspan font-size="6.2" dy="2.2">0</tspan></text>
<line x1="42" y1="413.2" x2="58.4" y2="413.2" stroke="#c0504d" stroke-width="1.6"/>
<text transform="translate(62.5,416.8) scale(0.94,1)" font-size="10" text-anchor="start" fill="#222" >Touch</text>
<text transform="translate(59,513.7) scale(0.94,1)" font-size="9.8" text-anchor="start" fill="#222" >Touching</text>
<rect x="267.6" y="403.3" width="52.2" height="147" fill="#f3e0da"/>
<rect x="319.8" y="403.3" width="49.7" height="147" fill="#eceef4"/>
<rect x="369.5" y="403.3" width="41.1" height="147" fill="#f7efea"/>
<rect x="410.6" y="403.3" width="39.8" height="147" fill="#e9eee7"/>
<polyline points="267.6,519 272,518.5 276,519.5 280,521 285,522 290,523 295,523.5 300,524 305,524.5 310,525 313,525.5 316,525 320,524.5 321.5,524 322,480.2 325,480 330,480.5 335,481 340,482 345,483 350,484 355,485 360,486 363,486.5 366,487 370,487.5 373,487.5 374,462.2 376,461 380,459.5 385,458.5 390,458 395,457.5 400,457 405,456 410,455.5 411,455.5 411.5,445 413,446 416,446.5 420,447 425,447.5 430,448 435,449 440,449.5 445,450 450,451" fill="none" stroke="#c0504d" stroke-width="0.9" stroke-linejoin="round" stroke-linecap="round" />
<rect x="267.6" y="403.3" width="182.8" height="147" fill="none" stroke="#4a4a4a" stroke-width="1"/>
<line x1="267.6" y1="550.3" x2="267.6" y2="547.7" stroke="#4a4a4a" stroke-width="0.9"/>
<text transform="translate(267.6,561.4) scale(0.94,1)" font-size="10.2" text-anchor="middle" fill="#222" >0</text>
<line x1="315.57" y1="550.3" x2="315.57" y2="547.7" stroke="#4a4a4a" stroke-width="0.9"/>
<text transform="translate(315.57,561.4) scale(0.94,1)" font-size="10.2" text-anchor="middle" fill="#222" >5</text>
<line x1="363.53" y1="550.3" x2="363.53" y2="547.7" stroke="#4a4a4a" stroke-width="0.9"/>
<text transform="translate(363.53,561.4) scale(0.94,1)" font-size="10.2" text-anchor="middle" fill="#222" >10</text>
<line x1="411.5" y1="550.3" x2="411.5" y2="547.7" stroke="#4a4a4a" stroke-width="0.9"/>
<text transform="translate(411.5,561.4) scale(0.94,1)" font-size="10.2" text-anchor="middle" fill="#222" >15</text>
<line x1="267.6" y1="525.5" x2="270.2" y2="525.5" stroke="#4a4a4a" stroke-width="0.9"/>
<text transform="translate(263.7,529.15) scale(0.94,1)" font-size="10.2" text-anchor="end" fill="#222" >0.0</text>
<line x1="267.6" y1="488.81" x2="270.2" y2="488.81" stroke="#4a4a4a" stroke-width="0.9"/>
<text transform="translate(263.7,492.46) scale(0.94,1)" font-size="10.2" text-anchor="end" fill="#222" >0.3</text>
<line x1="267.6" y1="452.12" x2="270.2" y2="452.12" stroke="#4a4a4a" stroke-width="0.9"/>
<text transform="translate(263.7,455.77) scale(0.94,1)" font-size="10.2" text-anchor="end" fill="#222" >0.6</text>
<line x1="267.6" y1="415.43" x2="270.2" y2="415.43" stroke="#4a4a4a" stroke-width="0.9"/>
<text transform="translate(263.7,419.08) scale(0.94,1)" font-size="10.2" text-anchor="end" fill="#222" >0.9</text>
<text transform="translate(359,576.7) scale(0.94,1)" font-size="10.5" text-anchor="middle" fill="#222" >Time (s)</text>
<text transform="translate(244.5,476.5) rotate(-90) scale(0.94,1)" font-size="9.8" text-anchor="middle" fill="#222">(I-I<tspan font-size="6.2" dy="2.2">0</tspan><tspan dy="-2.2">)/I</tspan><tspan font-size="6.2" dy="2.2">0</tspan></text>
<line x1="278" y1="413.9" x2="295" y2="413.9" stroke="#c0504d" stroke-width="1.6"/>
<text transform="translate(299.5,417.5) scale(0.94,1)" font-size="10" text-anchor="start" fill="#222" >Temperature</text>
<text transform="translate(281.7,509) scale(0.94,1)" font-size="9.8" text-anchor="start" fill="#222" >10</text>
<circle cx="294.1" cy="502.9" r="0.95" fill="none" stroke="#333" stroke-width="0.6"/>
<text transform="translate(294.8,509) scale(0.94,1)" font-size="9.8" text-anchor="start" fill="#222" >C</text>
<text transform="translate(334.4,469.9) scale(0.94,1)" font-size="9.8" text-anchor="start" fill="#222" >30</text>
<circle cx="348.2" cy="463.8" r="0.95" fill="none" stroke="#333" stroke-width="0.6"/>
<text transform="translate(348.9,469.9) scale(0.94,1)" font-size="9.8" text-anchor="start" fill="#222" >C</text>
<text transform="translate(379.4,444.5) scale(0.94,1)" font-size="9.8" text-anchor="start" fill="#222" >60</text>
<circle cx="393" cy="438.4" r="0.95" fill="none" stroke="#333" stroke-width="0.6"/>
<text transform="translate(393.7,444.5) scale(0.94,1)" font-size="9.8" text-anchor="start" fill="#222" >C</text>
<text transform="translate(419.3,429.6) scale(0.94,1)" font-size="9.8" text-anchor="start" fill="#222" >80</text>
<circle cx="432.9" cy="423.5" r="0.95" fill="none" stroke="#333" stroke-width="0.6"/>
<text transform="translate(433.6,429.6) scale(0.94,1)" font-size="9.8" text-anchor="start" fill="#222" >C</text>
<polyline points="503,482.7 504.2,509.4 505.5,490 507,475 508.5,472.3 509.5,474 510.5,489.6 511.5,470 512.5,457.6 513.5,462 514.5,463 515.5,461.1 516.5,462 517.5,470 518.5,473 519.5,480 520.5,482 521.5,484 522.2,518.1 523,495 524,478 525.5,475 526.2,484 526.8,455 527.8,470 529,474 530.5,470 531.5,468 532.5,480 533.5,490 535,492 536,495 537,505 538.5,509.5 539.5,507 540.5,496 541.5,497 542,526.7 542.8,456 543.5,465 544.5,476 545.5,475 546.5,476 548,474 549,470 550,468 551,475 552,474 553,477 554,481 555,483 556,481 557,478 558,472 559.5,463 560.5,465 561.5,474 562.5,479 563.5,481 564.5,476 565.5,480 566.5,468 567,489.6 568,470 569.5,441.4 570.5,460 571.5,463 572.5,468 573.5,470 574.5,462 575.5,455 576.5,460 577.5,468 578.5,471 580,470 581,464 582,460 583,465 584,472 586,473 588,470 589.5,472 591.5,465 593,460 594.5,456.3 595.5,465 596.5,467 598,472 599,480 600.2,480 601,491.4 602,460 602.3,451.2 603,460 604,466 605,468 606,470 607,469 608,466 609,463 610,467 611,462 612,465 613.5,461 614.5,462 615.5,466 616.5,470 617.5,472 618.5,476.9 619.5,460 621,457 622,458 623,462 624.5,465 625.5,456 626.5,446.4 627.5,455 628.5,460 630,462 631,464 632,465 633,474.8 634,462 635,466 636,470 637,467 638,465 639,462 640,436.6 640.5,438 641,460 641.5,471 643,468 644,465 645,464 646,461 647,465 648,467 649,463 650,467 651,465 652.5,461 653.5,465 654.5,459 655.5,457 656.5,465 657.5,449 659,450 660,452 661,452 662,453 663,454 664,454 665,455 666,456 667,460 668,466 669,467 670.5,466 672,460 674,457.5 675,462 676,466 677,465 678,468 679,466 681,469 682.5,470 684,475" fill="none" stroke="#c0504d" stroke-width="0.9" stroke-linejoin="round" stroke-linecap="round" />
<rect x="502.3" y="403.3" width="182.1" height="147" fill="none" stroke="#4a4a4a" stroke-width="1"/>
<line x1="502.3" y1="550.3" x2="502.3" y2="547.7" stroke="#4a4a4a" stroke-width="0.9"/>
<text transform="translate(502.3,561.4) scale(0.94,1)" font-size="10.2" text-anchor="middle" fill="#222" >0</text>
<line x1="556" y1="550.3" x2="556" y2="547.7" stroke="#4a4a4a" stroke-width="0.9"/>
<text transform="translate(556,561.4) scale(0.94,1)" font-size="10.2" text-anchor="middle" fill="#222" >5</text>
<line x1="609.7" y1="550.3" x2="609.7" y2="547.7" stroke="#4a4a4a" stroke-width="0.9"/>
<text transform="translate(609.7,561.4) scale(0.94,1)" font-size="10.2" text-anchor="middle" fill="#222" >10</text>
<line x1="663.4" y1="550.3" x2="663.4" y2="547.7" stroke="#4a4a4a" stroke-width="0.9"/>
<text transform="translate(663.4,561.4) scale(0.94,1)" font-size="10.2" text-anchor="middle" fill="#222" >15</text>
<line x1="502.3" y1="550" x2="504.9" y2="550" stroke="#4a4a4a" stroke-width="0.9"/>
<text transform="translate(498.4,553.65) scale(0.94,1)" font-size="10.2" text-anchor="end" fill="#222" >−0.2</text>
<line x1="502.3" y1="520.6" x2="504.9" y2="520.6" stroke="#4a4a4a" stroke-width="0.9"/>
<text transform="translate(498.4,524.25) scale(0.94,1)" font-size="10.2" text-anchor="end" fill="#222" >−0.1</text>
<line x1="502.3" y1="491.2" x2="504.9" y2="491.2" stroke="#4a4a4a" stroke-width="0.9"/>
<text transform="translate(498.4,494.85) scale(0.94,1)" font-size="10.2" text-anchor="end" fill="#222" >0.0</text>
<line x1="502.3" y1="461.8" x2="504.9" y2="461.8" stroke="#4a4a4a" stroke-width="0.9"/>
<text transform="translate(498.4,465.45) scale(0.94,1)" font-size="10.2" text-anchor="end" fill="#222" >0.1</text>
<line x1="502.3" y1="432.4" x2="504.9" y2="432.4" stroke="#4a4a4a" stroke-width="0.9"/>
<text transform="translate(498.4,436.05) scale(0.94,1)" font-size="10.2" text-anchor="end" fill="#222" >0.2</text>
<line x1="502.3" y1="403" x2="504.9" y2="403" stroke="#4a4a4a" stroke-width="0.9"/>
<text transform="translate(498.4,406.65) scale(0.94,1)" font-size="10.2" text-anchor="end" fill="#222" >0.3</text>
<text transform="translate(593.35,576.7) scale(0.94,1)" font-size="10.5" text-anchor="middle" fill="#222" >Time (s)</text>
<text transform="translate(474,476.5) rotate(-90) scale(0.94,1)" font-size="9.8" text-anchor="middle" fill="#222">(I-I<tspan font-size="6.2" dy="2.2">0</tspan><tspan dy="-2.2">)/I</tspan><tspan font-size="6.2" dy="2.2">0</tspan></text>
<line x1="514.6" y1="415" x2="531" y2="415" stroke="#c0504d" stroke-width="1.6"/>
<text transform="translate(535,418.6) scale(0.94,1)" font-size="10" text-anchor="start" fill="#222" >Pulse</text>
<rect x="76.4" y="323.8" width="27.3" height="16.4" fill="#b8cbe6" stroke="#8ea3c2" stroke-width="0.5"/>
<line x1="76.4" y1="324" x2="103.7" y2="324" stroke="#6f83a3" stroke-width="0.5"/>
<path d="M132.6,328.2 L110.9,328.2 M114.17,326.27 L110.9,328.2 L114.17,330.13" stroke="#b4bcc6" stroke-width="1.3" fill="none" stroke-linecap="round" stroke-linejoin="round"/>
<path d="M110.9,336.7 L132.6,336.7 M129.33,338.63 L132.6,336.7 L129.33,334.77" stroke="#b4bcc6" stroke-width="1.3" fill="none" stroke-linecap="round" stroke-linejoin="round"/>
<path d="M137.4,324.3 Q155.5,327.5 173.5,324.3 L173.5,340.7 Q155.5,337.5 137.4,340.7 Z" fill="#b8cbe6" stroke="#7d90ad" stroke-width="0.6"/>
<circle cx="155.9" cy="332.7" r="6.5" fill="url(#rglow)"/>
<circle cx="155.9" cy="332.7" r="2.3" fill="#d21f2a" stroke="#fff" stroke-width="1"/>
<path d="M337.3,326.3 L359,314.5 L380,325.3 L359,338.2 Z" fill="#dcdcdc"/>
<path d="M337.3,317.3 L359,304.5 L380,316.3 L359,329.2 Z" fill="#dcdcdc" opacity="0.85"/>
<path d="M351.4,317 L351.4,326.5 A7.4,2.4 0 0 0 366.2,326.5 L366.2,317 Z" fill="#a7b6cb"/>
<ellipse cx="358.8" cy="326.5" rx="7.4" ry="2.4" fill="#c9303a"/>
<ellipse cx="358.8" cy="326.5" rx="3.6" ry="1.15" fill="none" stroke="#f4f4f4" stroke-width="0.7"/>
<ellipse cx="358.8" cy="317" rx="7.4" ry="2.4" fill="#c9303a"/>
<ellipse cx="358.8" cy="317" rx="3.6" ry="1.15" fill="none" stroke="#f4f4f4" stroke-width="0.7"/>
<path d="M359,297.3 L359,310.5 M357.47,307.92 L359,310.5 L360.53,307.92" stroke="#6e6e6e" stroke-width="1.1" fill="none" stroke-linecap="round" stroke-linejoin="round"/>
<path d="M359,346.5 L359,332.8 M360.53,335.38 L359,332.8 L357.47,335.38" stroke="#6e6e6e" stroke-width="1.1" fill="none" stroke-linecap="round" stroke-linejoin="round"/>
<rect x="621" y="287.6" width="50.6" height="57" fill="#fdf3e3" opacity="0.6"/>
<rect x="621" y="287.6" width="5.3" height="57" fill="#e3ecec" opacity="0.8"/>
<path d="M651.1,293.8 L664.8,293.8 L664.8,320.8 L651.1,320.8 L651.1,315 C649,313.5 647,312.5 646.5,311 C645.8,309.8 645.2,309 645.6,308 C647.5,305 650,302 650.6,299 C651,297 651.1,295.5 651.1,293.8 Z" fill="#f2a06f"/>
<path d="M646.8,307.5 L648.3,307 M648.5,311.3 L650.2,311.5" stroke="#f7c9ad" stroke-width="0.7"/>
<ellipse cx="647.8" cy="322.5" rx="2.8" ry="7.5" fill="#d6dbe2" opacity="0.85"/>
<path d="M622.1,333.2 L634.5,341.5 L667.7,335.8 L667.7,338 L634.5,344 L622.1,335.4 Z" fill="url(#plateedge)"/>
<path d="M622.1,333.2 L654.2,326.5 L667.7,335.8 L634.5,341.5 Z" fill="url(#platetop)"/>
<ellipse cx="646.4" cy="333.4" rx="11" ry="4.8" fill="url(#rglow)"/>
<ellipse cx="646.4" cy="333.4" rx="5.4" ry="2.2" fill="#c81e26" stroke="#fff" stroke-width="0.9"/>
<ellipse cx="646.4" cy="333.4" rx="3" ry="1.1" fill="#d8262e"/>
<defs><linearGradient id="platetop" x1="0" y1="0" x2="1" y2="0.4"><stop offset="0" stop-color="#8ea4c0"/><stop offset="0.5" stop-color="#a3b6cc"/><stop offset="1" stop-color="#8197b2"/></linearGradient>
<linearGradient id="plateedge" x1="0" y1="0" x2="0" y2="1"><stop offset="0" stop-color="#6f6c68"/><stop offset="0.5" stop-color="#d9d5cd"/><stop offset="1" stop-color="#7a7772"/></linearGradient></defs>
<rect x="130.6" y="486.2" width="24.4" height="18.2" fill="#aac1df"/>
<path d="M154.4,486.4 L154.4,504 L131,504" stroke="#4a4a4a" stroke-width="1.1" fill="none"/>
<circle cx="142.5" cy="495.6" r="8.5" fill="url(#rglow2)"/>
<path d="M139.9,496 C139.9,492.5 146.1,492.5 146.1,496 L146.1,509 C149,507.5 152,506 154,506.5 C156,507.5 155.5,509 154.5,511 C152,515 150,519 148,522 C147,525 146,527 145,527.7 L124.3,527.7 C123,525 122.3,521 122.3,516 L122.3,509.5 C122.3,506 126.5,505.5 127.5,507.5 C127.5,504.5 131,504 132,506.5 C132,504 136,503.5 136.5,506 L139.9,506 Z" fill="#f3c7a6"/>
<ellipse cx="143" cy="494.8" rx="2.6" ry="1.6" fill="#fbe3cf"/>
<rect x="124.1" y="527.7" width="21" height="9.3" rx="1.3" fill="#aeb0b4"/>
<rect x="345.7" y="499.2" width="3.2" height="27" rx="1.6" fill="#d0d0d3" stroke="#b4b4b8" stroke-width="0.4"/>
<circle cx="347.3" cy="526.3" r="4.3" fill="#cdcdd1"/>
<rect x="346.3" y="520.7" width="2" height="5.6" fill="#c0302f"/>
<circle cx="347.3" cy="526.3" r="3.1" fill="#c0302f"/>
<line x1="345.9" y1="503" x2="346.7" y2="503" stroke="#888" stroke-width="0.4"/>
<line x1="345.9" y1="507" x2="346.7" y2="507" stroke="#888" stroke-width="0.4"/>
<line x1="345.9" y1="511.5" x2="346.7" y2="511.5" stroke="#888" stroke-width="0.4"/>
<line x1="345.9" y1="515.5" x2="346.7" y2="515.5" stroke="#888" stroke-width="0.4"/>
<rect x="373.6" y="499.2" width="3.2" height="27" rx="1.6" fill="#d0d0d3" stroke="#b4b4b8" stroke-width="0.4"/>
<circle cx="375.2" cy="526.3" r="4.3" fill="#cdcdd1"/>
<rect x="374.2" y="515.3" width="2" height="11" fill="#c0302f"/>
<circle cx="375.2" cy="526.3" r="3.1" fill="#c0302f"/>
<line x1="373.8" y1="503" x2="374.6" y2="503" stroke="#888" stroke-width="0.4"/>
<line x1="373.8" y1="507" x2="374.6" y2="507" stroke="#888" stroke-width="0.4"/>
<line x1="373.8" y1="511.5" x2="374.6" y2="511.5" stroke="#888" stroke-width="0.4"/>
<line x1="373.8" y1="515.5" x2="374.6" y2="515.5" stroke="#888" stroke-width="0.4"/>
<rect x="401.3" y="499.2" width="3.2" height="27" rx="1.6" fill="#d0d0d3" stroke="#b4b4b8" stroke-width="0.4"/>
<circle cx="402.9" cy="526.3" r="4.3" fill="#cdcdd1"/>
<rect x="401.9" y="509.2" width="2" height="17.1" fill="#c0302f"/>
<circle cx="402.9" cy="526.3" r="3.1" fill="#c0302f"/>
<line x1="401.5" y1="503" x2="402.3" y2="503" stroke="#888" stroke-width="0.4"/>
<line x1="401.5" y1="507" x2="402.3" y2="507" stroke="#888" stroke-width="0.4"/>
<line x1="401.5" y1="511.5" x2="402.3" y2="511.5" stroke="#888" stroke-width="0.4"/>
<line x1="401.5" y1="515.5" x2="402.3" y2="515.5" stroke="#888" stroke-width="0.4"/>
<rect x="429.3" y="499.2" width="3.2" height="27" rx="1.6" fill="#d0d0d3" stroke="#b4b4b8" stroke-width="0.4"/>
<circle cx="430.9" cy="526.3" r="4.3" fill="#cdcdd1"/>
<rect x="429.9" y="503" width="2" height="23.3" fill="#c0302f"/>
<circle cx="430.9" cy="526.3" r="3.1" fill="#c0302f"/>
<line x1="429.5" y1="503" x2="430.3" y2="503" stroke="#888" stroke-width="0.4"/>
<line x1="429.5" y1="507" x2="430.3" y2="507" stroke="#888" stroke-width="0.4"/>
<line x1="429.5" y1="511.5" x2="430.3" y2="511.5" stroke="#888" stroke-width="0.4"/>
<line x1="429.5" y1="515.5" x2="430.3" y2="515.5" stroke="#888" stroke-width="0.4"/>
<path d="M352.6,518.8 L366.4,518.8 M363.56,520.48 L366.4,518.8 L363.56,517.12" stroke="#aab4c2" stroke-width="1.1" fill="none" stroke-linecap="round" stroke-linejoin="round"/>
<path d="M381.8,518.8 L396.3,518.8 M393.46,520.48 L396.3,518.8 L393.46,517.12" stroke="#aab4c2" stroke-width="1.1" fill="none" stroke-linecap="round" stroke-linejoin="round"/>
<path d="M411.7,518.8 L426.3,518.8 M423.46,520.48 L426.3,518.8 L423.46,517.12" stroke="#aab4c2" stroke-width="1.1" fill="none" stroke-linecap="round" stroke-linejoin="round"/>
<path d="M549.3,523.3 C549.8,521.8 551.5,521.5 553,522.3 C554,521 556,521 558,522.5 L564,524.5 C565,522 566,520.5 567.5,520.2 L580.5,520 C583,518.5 585,517 588.4,515.9 C592,515.5 596,515.5 600.2,515.9 C606,516.8 612,517.8 617.3,518.5 C622,519 627,519.5 631.1,519.9 L631.1,535.6 C624,534 617,532.5 610.7,531 C605,529.8 600,528.5 594.9,527.7 C591,528.5 588,530 585.8,530.4 C580,531.2 572,531.4 566,531.4 C563.5,531.2 562,531 560.8,530.4 C557,528.5 552,525.5 549.3,523.3 Z" fill="#f2c4ab"/>
<path d="M549.5,523 C550,521.8 551.8,521.6 553,522.6 C553.5,524 552.5,525 551.5,524.8 Z M554.3,521.6 C555.5,521 557,521.5 557.8,522.6 C557,523.6 555.6,523.6 554.6,522.8 Z" fill="#dea28a"/>
<path d="M552,525.3 C554.5,527 557.5,529 561,530.4" stroke="#dba58e" stroke-width="0.7" fill="none"/>
<path d="M564.7,525.4 C569,525.2 574,525.2 578,525.6" stroke="#d59a82" stroke-width="0.9" fill="none"/>
<rect x="567.4" y="522" width="5.2" height="2.5" rx="1" fill="#f8e2d4"/>
<rect x="591" y="518.5" width="10.8" height="5.7" fill="#fff" stroke="#8fa0b8" stroke-width="0.6"/>
<rect x="593" y="520.6" width="6.8" height="1.5" fill="#d04050"/>
<rect x="641.2" y="503.9" width="37" height="39.4" fill="#050505"/>
<defs><clipPath id="phclip"><rect x="641.2" y="503.9" width="37" height="39.4"/></clipPath></defs><g clip-path="url(#phclip)">
<path d="M660.6,534 C657.6,531 645.6,523.5 645.6,514.5 C645.6,507.9 650.7,505.5 654,505.5 C657.6,505.5 660,507.9 660.6,510.6 C661.2,507.9 663.6,505.5 667.2,505.5 C670.5,505.5 675.6,507.9 675.6,514.5 C675.6,523.5 663.6,531 660.6,534 Z" fill="#160203"/>
<path d="M660.6,532.65 C657.9,529.95 647.1,523.2 647.1,515.1 C647.1,509.16 651.69,507 654.66,507 C657.9,507 660.06,509.16 660.6,511.59 C661.14,509.16 663.3,507 666.54,507 C669.51,507 674.1,509.16 674.1,515.1 C674.1,523.2 663.3,529.95 660.6,532.65 Z" fill="#2e0506"/>
<path d="M660.6,531.3 C658.2,528.9 648.6,522.9 648.6,515.7 C648.6,510.42 652.68,508.5 655.32,508.5 C658.2,508.5 660.12,510.42 660.6,512.58 C661.08,510.42 663,508.5 665.88,508.5 C668.52,508.5 672.6,510.42 672.6,515.7 C672.6,522.9 663,528.9 660.6,531.3 Z" fill="#470809"/>
<path d="M660.6,529.95 C658.5,527.85 650.1,522.6 650.1,516.3 C650.1,511.68 653.67,510 655.98,510 C658.5,510 660.18,511.68 660.6,513.57 C661.02,511.68 662.7,510 665.22,510 C667.53,510 671.1,511.68 671.1,516.3 C671.1,522.6 662.7,527.85 660.6,529.95 Z" fill="#620c0e"/>
<path d="M660.6,528.69 C658.78,526.87 651.5,522.32 651.5,516.86 C651.5,512.86 654.59,511.4 656.6,511.4 C658.78,511.4 660.24,512.86 660.6,514.49 C660.96,512.86 662.42,511.4 664.6,511.4 C666.61,511.4 669.7,512.86 669.7,516.86 C669.7,522.32 662.42,526.87 660.6,528.69 Z" fill="#861416"/>
</g>
<path d="M660.6,525.95 C659.1,524.45 653.1,520.7 653.1,516.2 C653.1,512.9 655.65,511.7 657.3,511.7 C659.1,511.7 660.3,512.9 660.6,514.25 C660.9,512.9 662.1,511.7 663.9,511.7 C665.55,511.7 668.1,512.9 668.1,516.2 C668.1,520.7 662.1,524.45 660.6,525.95 Z" fill="url(#hgrad)"/>
<defs><radialGradient id="hgrad" cx="0.5" cy="0.45" r="0.6"><stop offset="0" stop-color="#c92a2c"/><stop offset="0.6" stop-color="#e23b37"/><stop offset="1" stop-color="#f04a40"/></radialGradient></defs>
<rect x="643.8" y="527.3" width="2.6" height="2.4" fill="#ddd"/><rect x="646.8" y="527.3" width="2.6" height="2.4" fill="#ddd"/>
<text x="643.6" y="536.4" font-size="6.6" font-weight="bold" fill="#f4f4f4">75</text>
<text x="651.3" y="536.2" font-size="3.8" font-weight="bold" fill="#e0302c">b/p</text>
<rect x="643.8" y="537.7" width="20" height="1.1" fill="#8a8a8a"/>
<line x1="91.6" y1="258.6" x2="97.4" y2="247.3" stroke="#111" stroke-width="0.85"/>
<path d="M97.4,247.3 L97.12,250.29 L95.14,249.27 Z" fill="#111"/>
<line x1="81.3" y1="285" x2="81.3" y2="300.5" stroke="#111" stroke-width="0.85"/>
<path d="M81.3,300.5 L80.19,297.71 L82.41,297.71 Z" fill="#111"/>
<line x1="351.2" y1="251.3" x2="359.3" y2="241.5" stroke="#111" stroke-width="0.85"/>
<path d="M359.3,241.5 L358.38,244.36 L356.67,242.94 Z" fill="#111"/>
<line x1="61.8" y1="487.2" x2="74.5" y2="502.6" stroke="#111" stroke-width="0.85"/>
<path d="M74.5,502.6 L71.87,501.16 L73.59,499.74 Z" fill="#111"/>
</svg>
</body></html>
